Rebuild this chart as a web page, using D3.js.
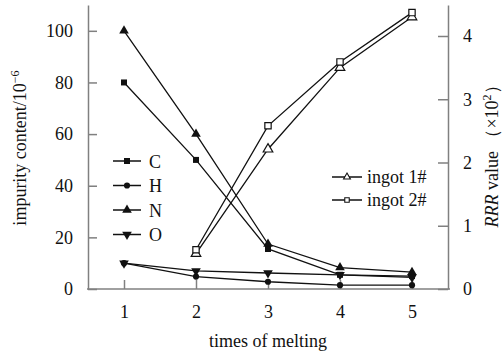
<!DOCTYPE html>
<html>
<head>
<meta charset="utf-8">
<script src="https://cdn.jsdelivr.net/npm/d3@7"></script>
<style>
  body { margin: 0; background: #fff; }
  text { font-family: "Liberation Serif", "Times New Roman", serif; fill: #111; }
</style>
</head>
<body>
<div id="chart"></div>
<script>
// data
var melts = [1, 2, 3, 4, 5];
var carbon = [80, 50, 15.5, 5.5, 5];
var hydrogen = [10, 4.8, 2.8, 1.5, 1.5];
var nitrogen = [100, 60, 17.4, 8.3, 6.5];
var oxygen = [10, 7, 6.2, 5.5, 4.5];
var ingot1 = [null, 0.56, 2.21, 3.5, 4.3];
var ingot2 = [null, 0.62, 2.58, 3.59, 4.37];
var leftTicks = [0, 20, 40, 60, 80, 100];
var rightTicks = [0, 1, 2, 3, 4];

var svgWidth = 504, svgHeight = 358;
var svg = d3.select("#chart").append("svg")
  .attr("width", svgWidth)
  .attr("height", svgHeight);

var x = d3.scaleLinear().domain([0.5, 5.5]).range([88, 448]);
var yL = d3.scaleLinear().domain([0, 110]).range([289, 5]);
var yR = d3.scaleLinear().domain([0, 4.49]).range([289, 5]);

var axisColor = "#808080";

// Axes //
var gx = svg.append("g").attr("transform", "translate(0,289)")
  .call(d3.axisBottom(x).tickValues(melts).tickSize(-9).tickSizeOuter(0).tickPadding(16).tickFormat(d3.format("d")));
var gl = svg.append("g").attr("transform", "translate(88,0)")
  .call(d3.axisLeft(yL).tickValues(leftTicks).tickSize(-9).tickSizeOuter(0).tickPadding(15).tickFormat(d3.format("d")));
var gr = svg.append("g").attr("transform", "translate(448,0)")
  .call(d3.axisRight(yR).tickValues(rightTicks).tickSize(-10).tickSizeOuter(0).tickPadding(15).tickFormat(d3.format("d")));

[gx, gl, gr].forEach(function(g) {
  g.attr("font-family", null);
  g.selectAll("path, line").attr("stroke", axisColor).attr("stroke-width", 1.5);
  g.selectAll("text").attr("font-size", 18).attr("fill", "#111");
});
gx.select(".domain").attr("d", "M87,0H450");

// Lines //
var seriesL = [
  { name: "C", vals: carbon, sym: d3.symbolSquare, size: 36 },
  { name: "H", vals: hydrogen, sym: d3.symbolCircle, size: 30 },
  { name: "N", vals: nitrogen, sym: d3.symbolTriangle, size: 40 },
  { name: "O", vals: oxygen, sym: "down", size: 40 }
];
var seriesR = [
  { name: "ingot 1#", vals: ingot1, sym: d3.symbolTriangle, size: 40 },
  { name: "ingot 2#", vals: ingot2, sym: d3.symbolSquare, size: 40 }
];

function symPath(s, size) {
  if (s === "down") return d3.symbol(d3.symbolTriangle, size)();
  return d3.symbol(s, size)();
}

function pts(vals) {
  return melts.map(function(m, i) { return { m: m, v: vals[i] }; })
    .filter(function(d) { return d.v != null; });
}

seriesL.forEach(function(s) {
  var line = d3.line().x(d => x(d.m)).y(d => yL(d.v));
  svg.append("path").datum(pts(s.vals))
    .attr("d", line).attr("fill", "none").attr("stroke", "#111").attr("stroke-width", 1.3);
});
seriesR.forEach(function(s) {
  var line = d3.line().x(d => x(d.m)).y(d => yR(d.v));
  svg.append("path").datum(pts(s.vals))
    .attr("d", line).attr("fill", "none").attr("stroke", "#111").attr("stroke-width", 1.3);
});

// Markers //
seriesL.forEach(function(s) {
  svg.selectAll(null).data(pts(s.vals)).enter().append("path")
    .attr("d", symPath(s.sym, s.size))
    .attr("transform", d => `translate(${x(d.m)},${yL(d.v)})` + (s.sym === "down" ? " rotate(180)" : ""))
    .attr("fill", "#111");
});
seriesR.forEach(function(s) {
  svg.selectAll(null).data(pts(s.vals)).enter().append("path")
    .attr("d", symPath(s.sym, s.size))
    .attr("transform", d => `translate(${x(d.m)},${yR(d.v)})`)
    .attr("fill", "#fff").attr("stroke", "#111").attr("stroke-width", 1.2);
});

// Legends //
seriesL.forEach(function(s, i) {
  var ly = 161 + i * 24.5;
  svg.append("line").attr("x1", 113).attr("x2", 141).attr("y1", ly).attr("y2", ly)
    .attr("stroke", "#111").attr("stroke-width", 1.5);
  svg.append("path").attr("d", symPath(s.sym, s.size))
    .attr("transform", `translate(127,${ly})` + (s.sym === "down" ? " rotate(180)" : ""))
    .attr("fill", "#111");
  svg.append("text").attr("x", 149).attr("y", ly + 6.5).attr("font-size", 18).text(s.name);
});
seriesR.forEach(function(s, i) {
  var ly = 177 + i * 23;
  svg.append("line").attr("x1", 332).attr("x2", 362).attr("y1", ly).attr("y2", ly)
    .attr("stroke", "#111").attr("stroke-width", 1.5);
  svg.append("path").attr("d", symPath(s.sym, 20))
    .attr("transform", `translate(347,${ly})`)
    .attr("fill", "#fff").attr("stroke", "#111").attr("stroke-width", 1.1);
  svg.append("text").attr("x", 367).attr("y", ly + 6).attr("font-size", 18).text(s.name);
});

// Axis labels //
svg.append("text")
  .attr("text-anchor", "middle")
  .attr("x", 268).attr("y", 347)
  .attr("font-size", 18)
  .text("times of melting");

var lt = svg.append("text")
  .attr("transform", "translate(26,148) rotate(-90)")
  .attr("text-anchor", "middle")
  .attr("font-size", 18);
lt.append("tspan").text("impurity content/10");
lt.append("tspan").attr("dy", -7).attr("font-size", 12).text("\u22126");

var rt = svg.append("text")
  .attr("transform", "translate(498,152) rotate(-90)")
  .attr("text-anchor", "middle")
  .attr("font-size", 18);
rt.append("tspan").attr("font-style", "italic").text("RRR");
rt.append("tspan").text(" value \uFF08\u00D710");
rt.append("tspan").attr("dy", -7).attr("font-size", 12).text("2");
rt.append("tspan").attr("dy", 7).text("\uFF09");
</script>
</body>
</html>
